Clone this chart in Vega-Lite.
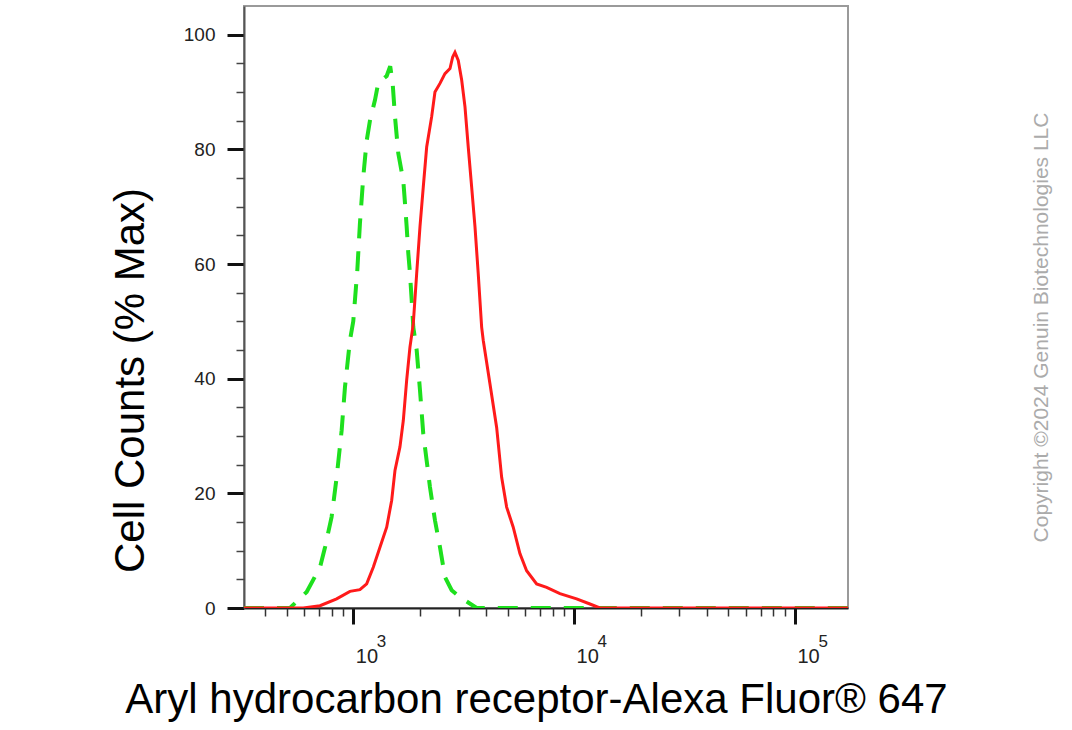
{
  "$schema": "https://vega.github.io/schema/vega-lite/v6.json",
  "width": 604,
  "height": 602,
  "autosize": {"type": "none"},
  "padding": {"left": 244, "top": 6, "right": 224, "bottom": 122},
  "background": "white",
  "config": {
    "font": "Liberation Sans",
    "view": {"stroke": "#9a9a9a", "strokeWidth": 2},
    "axis": {"grid": false, "labelFlush": false, "labelOverlap": false, "titleFontWeight": "normal"}
  },
  "data": {
    "values": [
      {"series": "control", "intensity": 320, "pct": 0},
      {"series": "control", "intensity": 517, "pct": 0},
      {"series": "control", "intensity": 615, "pct": 2.8},
      {"series": "control", "intensity": 707, "pct": 7.1},
      {"series": "control", "intensity": 745, "pct": 10.6},
      {"series": "control", "intensity": 798, "pct": 15.9},
      {"series": "control", "intensity": 841, "pct": 22.8},
      {"series": "control", "intensity": 886, "pct": 31.0},
      {"series": "control", "intensity": 917, "pct": 38.5},
      {"series": "control", "intensity": 966, "pct": 46.7},
      {"series": "control", "intensity": 1000, "pct": 50.0},
      {"series": "control", "intensity": 1043, "pct": 58.9},
      {"series": "control", "intensity": 1072, "pct": 67.1},
      {"series": "control", "intensity": 1110, "pct": 75.2},
      {"series": "control", "intensity": 1150, "pct": 81.5},
      {"series": "control", "intensity": 1190, "pct": 85.0},
      {"series": "control", "intensity": 1254, "pct": 88.6},
      {"series": "control", "intensity": 1298, "pct": 91.6},
      {"series": "control", "intensity": 1417, "pct": 92.8},
      {"series": "control", "intensity": 1470, "pct": 94.5},
      {"series": "control", "intensity": 1508, "pct": 91.5},
      {"series": "control", "intensity": 1545, "pct": 85.7},
      {"series": "control", "intensity": 1599, "pct": 79.3},
      {"series": "control", "intensity": 1685, "pct": 74.5},
      {"series": "control", "intensity": 1715, "pct": 70.6},
      {"series": "control", "intensity": 1745, "pct": 66.5},
      {"series": "control", "intensity": 1775, "pct": 61.9},
      {"series": "control", "intensity": 1806, "pct": 58.4},
      {"series": "control", "intensity": 1839, "pct": 53.7},
      {"series": "control", "intensity": 1870, "pct": 49.0},
      {"series": "control", "intensity": 1937, "pct": 45.0},
      {"series": "control", "intensity": 2005, "pct": 38.0},
      {"series": "control", "intensity": 2075, "pct": 30.4},
      {"series": "control", "intensity": 2150, "pct": 25.7},
      {"series": "control", "intensity": 2225, "pct": 21.1},
      {"series": "control", "intensity": 2344, "pct": 15.3},
      {"series": "control", "intensity": 2470, "pct": 10.6},
      {"series": "control", "intensity": 2602, "pct": 5.4},
      {"series": "control", "intensity": 2790, "pct": 3.1},
      {"series": "control", "intensity": 3042, "pct": 1.9},
      {"series": "control", "intensity": 3621, "pct": 0},
      {"series": "control", "intensity": 174000, "pct": 0},
      {"series": "AhR", "intensity": 320, "pct": 0},
      {"series": "AhR", "intensity": 594, "pct": 0},
      {"series": "AhR", "intensity": 707, "pct": 0.4},
      {"series": "AhR", "intensity": 841, "pct": 1.6},
      {"series": "AhR", "intensity": 966, "pct": 2.9},
      {"series": "AhR", "intensity": 1072, "pct": 3.2},
      {"series": "AhR", "intensity": 1150, "pct": 4.2},
      {"series": "AhR", "intensity": 1232, "pct": 7.1},
      {"series": "AhR", "intensity": 1321, "pct": 10.6},
      {"series": "AhR", "intensity": 1417, "pct": 14.1},
      {"series": "AhR", "intensity": 1493, "pct": 18.8},
      {"series": "AhR", "intensity": 1545, "pct": 24.0},
      {"series": "AhR", "intensity": 1627, "pct": 28.1},
      {"series": "AhR", "intensity": 1685, "pct": 32.7},
      {"series": "AhR", "intensity": 1745, "pct": 39.7},
      {"series": "AhR", "intensity": 1806, "pct": 45.5},
      {"series": "AhR", "intensity": 1870, "pct": 49.6},
      {"series": "AhR", "intensity": 1937, "pct": 58.3},
      {"series": "AhR", "intensity": 2005, "pct": 66.5},
      {"series": "AhR", "intensity": 2075, "pct": 73.4},
      {"series": "AhR", "intensity": 2150, "pct": 80.4},
      {"series": "AhR", "intensity": 2265, "pct": 85.7},
      {"series": "AhR", "intensity": 2344, "pct": 90.0},
      {"series": "AhR", "intensity": 2470, "pct": 91.5},
      {"series": "AhR", "intensity": 2602, "pct": 93.2},
      {"series": "AhR", "intensity": 2742, "pct": 94.1},
      {"series": "AhR", "intensity": 2820, "pct": 96.1},
      {"series": "AhR", "intensity": 2888, "pct": 96.9},
      {"series": "AhR", "intensity": 2989, "pct": 95.5},
      {"series": "AhR", "intensity": 3097, "pct": 92.1},
      {"series": "AhR", "intensity": 3206, "pct": 87.4},
      {"series": "AhR", "intensity": 3317, "pct": 80.4},
      {"series": "AhR", "intensity": 3437, "pct": 73.4},
      {"series": "AhR", "intensity": 3558, "pct": 66.5},
      {"series": "AhR", "intensity": 3681, "pct": 58.3},
      {"series": "AhR", "intensity": 3814, "pct": 49.0},
      {"series": "AhR", "intensity": 3878, "pct": 46.7},
      {"series": "AhR", "intensity": 4159, "pct": 39.1},
      {"series": "AhR", "intensity": 4460, "pct": 31.5},
      {"series": "AhR", "intensity": 4699, "pct": 22.8},
      {"series": "AhR", "intensity": 4950, "pct": 17.6},
      {"series": "AhR", "intensity": 5302, "pct": 14.1},
      {"series": "AhR", "intensity": 5685, "pct": 9.5},
      {"series": "AhR", "intensity": 6097, "pct": 6.5},
      {"series": "AhR", "intensity": 6767, "pct": 4.2},
      {"series": "AhR", "intensity": 7511, "pct": 3.6},
      {"series": "AhR", "intensity": 8629, "pct": 2.5},
      {"series": "AhR", "intensity": 10268, "pct": 1.6},
      {"series": "AhR", "intensity": 11796, "pct": 0.7},
      {"series": "AhR", "intensity": 13092, "pct": 0},
      {"series": "AhR", "intensity": 174000, "pct": 0}
    ]
  },
  "resolve": {"axis": {"x": "independent", "y": "independent"}},
  "layer": [
    {
      "transform": [{"filter": "datum.series === 'control'"}],
      "mark": {"type": "line", "color": "#1ee01e", "strokeWidth": 4, "strokeDash": [20, 13], "clip": true},
      "encoding": {
        "x": {
          "field": "intensity", "type": "quantitative",
          "scale": {"type": "log", "domain": [320, 174000], "nice": false},
          "axis": {
            "orient": "bottom",
            "values": [1000, 10000, 100000],
            "labelExpr": "'10'",
            "labelFont": "Liberation Sans Narrow, Liberation Sans",
            "labelAlign": "left", "labelOffset": 2, "labelBaseline": "alphabetic",
            "labelFontSize": 20, "labelColor": "#222", "labelPadding": 38,
            "tickSize": 16, "tickWidth": 3, "tickColor": "#111",
            "domainColor": "#222", "domainWidth": 2,
            "title": "Aryl hydrocarbon receptor-Alexa Fluor® 647",
            "titleFontSize": 42, "titleColor": "#000",
            "titleX": 292, "titleY": 104, "titleAlign": "center", "titleBaseline": "alphabetic"
          }
        },
        "y": {
          "field": "pct", "type": "quantitative",
          "scale": {"domain": [0, 105], "nice": false},
          "axis": {
            "orient": "left",
            "values": [0, 20, 40, 60, 80, 100],
            "labelFontSize": 19, "labelColor": "#222", "labelPadding": 12, "labelBaseline": "middle",
            "tickSize": 17, "tickWidth": 3, "tickColor": "#111",
            "domainColor": "#555", "domainWidth": 2,
            "title": "Cell Counts (% Max)",
            "titleFontSize": 42, "titleColor": "#000", "titleAngle": 270,
            "titleX": -101, "titleY": 374, "titleAlign": "center", "titleBaseline": "alphabetic"
          }
        }
      }
    },
    {
      "transform": [{"filter": "datum.series === 'AhR'"}],
      "mark": {"type": "line", "color": "#ff1a1a", "strokeWidth": 3, "clip": true},
      "encoding": {
        "x": {
          "field": "intensity", "type": "quantitative",
          "scale": {"type": "log", "domain": [320, 174000], "nice": false},
          "axis": {
            "orient": "bottom",
            "values": [400, 500, 600, 700, 800, 900, 2000, 3000, 4000, 5000, 6000, 7000, 8000, 9000, 20000, 30000, 40000, 50000, 60000, 70000, 80000, 90000],
            "labels": false, "domain": false,
            "tickSize": 8, "tickWidth": 1.5, "tickColor": "#333",
            "title": null
          }
        },
        "y": {
          "field": "pct", "type": "quantitative",
          "scale": {"domain": [0, 105], "nice": false},
          "axis": {
            "orient": "left",
            "values": [5, 10, 15, 25, 30, 35, 45, 50, 55, 65, 70, 75, 85, 90, 95],
            "labels": false, "domain": false,
            "tickSize": 8, "tickWidth": 1.5, "tickColor": "#444",
            "title": "Copyright ©2024 Genuin Biotechnologies LLC",
            "titleFontSize": 21, "titleColor": "#ababab", "titleAngle": 270,
            "titleX": 803, "titleY": 321, "titleAlign": "center", "titleBaseline": "alphabetic"
          }
        }
      }
    },
    {
      "transform": [{"filter": "datum.series === 'AhR'"}],
      "mark": {"type": "point", "opacity": 0},
      "encoding": {
        "x": {
          "field": "intensity", "type": "quantitative",
          "scale": {"type": "log", "domain": [320, 174000], "nice": false},
          "axis": {
            "orient": "bottom",
            "values": [1000, 10000, 100000],
            "labelExpr": "datum.value < 5000 ? '3' : datum.value < 50000 ? '4' : '5'",
            "labelFont": "Liberation Sans Narrow, Liberation Sans",
            "labelAlign": "left", "labelOffset": 23, "labelBaseline": "alphabetic",
            "labelFontSize": 17, "labelColor": "#222", "labelPadding": 38,
            "ticks": false, "domain": false, "title": null
          }
        },
        "y": {
          "field": "pct", "type": "quantitative",
          "scale": {"domain": [0, 105], "nice": false},
          "axis": null
        }
      }
    }
  ]
}
